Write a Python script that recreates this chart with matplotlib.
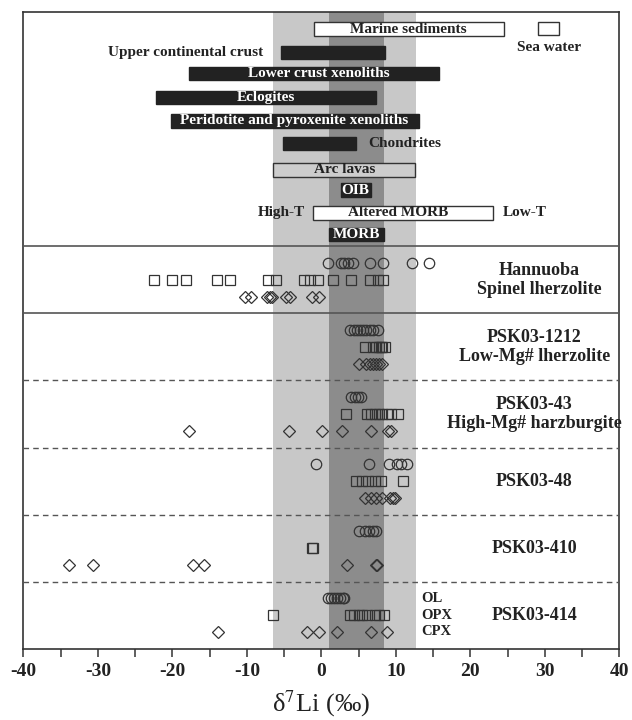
import matplotlib
matplotlib.use('Agg')
import matplotlib.pyplot as plt

plt.rcParams['font.family'] = 'Liberation Serif'
plt.rcParams['mathtext.fontset'] = 'stix'
plt.rcParams['axes.unicode_minus'] = False

# #### Reference reservoirs: delta7Li ranges (permil)
ref_names = ['Marine sediments', 'Sea water', 'Upper continental crust', 'Lower crust xenoliths',
             'Eclogites', 'Peridotite and pyroxenite xenoliths', 'Chondrites', 'Arc lavas',
             'OIB', 'Altered MORB', 'MORB']
ref_low = [-1.0, 29.1, -5.4, -17.8, -22.2, -20.2, -5.2, -6.5, 2.6, -1.1, 1.05]
ref_high = [24.5, 31.9, 8.6, 15.8, 7.4, 13.1, 4.7, 12.6, 6.6, 23.0, 8.4]

# mantle ranges shown as vertical bands
band_wide = [-6.5, 12.75]
band_narrow = [1.05, 8.4]

# #### Mineral data per sample (OL = olivine, OPX, CPX)
han_ol = [0.9, 2.6, 3.1, 3.6, 4.3, 6.5, 8.3, 12.2, 14.4]
han_opx = [-22.5, -20.1, -18.2, -14.0, -12.3, -7.1, -6.1, -2.3, -1.5, -0.4, 1.5, 4.0, 6.5, 7.65, 8.3]
han_cpx = [-10.3, -9.5, -7.3, -6.9, -6.6, -4.7, -4.2, -1.2, -0.3]

p1212_ol = [3.9, 4.4, 4.8, 5.2, 5.6, 6.0, 6.5, 7.0, 7.6]
p1212_opx = [5.8, 6.9, 7.4, 7.7, 8.0, 8.2, 8.5]
p1212_cpx = [5.0, 6.0, 6.5, 6.9, 7.3, 7.7, 8.2]

p43_ol = [4.0, 4.5, 4.9, 5.3]
p43_opx = [3.3, 6.1, 6.6, 7.2, 7.7, 8.2, 8.8, 9.4, 10.3]
p43_cpx = [-17.7, -4.3, 0.1, 2.8, 6.7, 9.0, 9.3]

p48_ol = [-0.7, 6.4, 9.1, 10.1, 10.7, 11.5]
p48_opx = [4.7, 5.5, 6.3, 7.2, 8.0, 11.0]
p48_cpx = [5.8, 6.6, 7.4, 8.2, 9.2, 9.6, 9.9]

p410_ol = [5.0, 5.8, 6.4, 6.9, 7.4]
p410_opx = [-1.2, -1.1]
p410_cpx = [-33.9, -30.7, -17.2, -15.8, 3.4, 7.4, 7.5]

p414_ol = [0.9, 1.3, 1.7, 2.1, 2.5, 2.9, 3.1]
p414_opx = [-6.5, 3.8, 4.4, 5.1, 5.5, 6.1, 7.2, 7.8, 8.4]
p414_cpx = [-13.9, -1.9, -0.3, 2.1, 6.7, 8.8]

sample_labels = ['PSK03-414', 'PSK03-410', 'PSK03-48', 'PSK03-43\nHigh-Mg# harzburgite',
                 'PSK03-1212\nLow-Mg# lherzolite', 'Hannuoba\nSpinel lherzolite']
samples = [(p414_ol, p414_opx, p414_cpx), (p410_ol, p410_opx, p410_cpx),
           (p48_ol, p48_opx, p48_cpx), (p43_ol, p43_opx, p43_cpx),
           (p1212_ol, p1212_opx, p1212_cpx), (han_ol, han_opx, han_cpx)]


fig = plt.figure(figsize=(6.32, 7.2), dpi=100)
ax = fig.add_axes([0.0369, 0.099, 0.9431, 0.8848])
ax.set_xlim(-40, 40)
ax.set_ylim(0, 9.5)

# grey bands
ax.axvspan(band_wide[0], band_wide[1], color='#c8c8c8', lw=0, zorder=0)
ax.axvspan(band_narrow[0], band_narrow[1], color='#8c8c8c', lw=0, zorder=0.5)

# row position and style of each reservoir bar
ref_rows = [9.24, 9.25, 8.89, 8.58, 8.22, 7.87, 7.53, 7.14, 6.84, 6.50, 6.18]
ref_style = ['open', 'open', 'black', 'black', 'black', 'black', 'black', 'grey', 'black', 'open', 'black']
fills = {'open': 'white', 'black': '#222222', 'grey': '#cdcdcd'}
for name, lo, hi, yr, st in zip(ref_names, ref_low, ref_high, ref_rows, ref_style):
    ax.barh(yr, hi - lo, left=lo, height=0.2, color=fills[st],
            edgecolor='#333333' if st != 'black' else fills[st], lw=1, zorder=2)

# labels inside / beside the bars
inside = {'Marine sediments': 11.7, 'Lower crust xenoliths': -0.3, 'Eclogites': -7.4,
          'Peridotite and pyroxenite xenoliths': -3.6, 'Arc lavas': 3.1, 'OIB': 4.6,
          'Altered MORB': 10.3, 'MORB': 4.7}
for name, yr, st in zip(ref_names, ref_rows, ref_style):
    if name in inside:
        ax.text(inside[name], yr, name, ha='center', va='center', fontsize=11, fontweight='bold',
                color='white' if st == 'black' else '#222222', zorder=3)
ax.text(-7.8, 8.89, 'Upper continental crust', ha='right', va='center', fontsize=11,
        fontweight='bold', color='#222222')
ax.text(30.5, 8.96, 'Sea water', ha='center', va='center', fontsize=11, fontweight='bold', color='#222222')
ax.text(6.3, 7.53, 'Chondrites', ha='left', va='center', fontsize=11, fontweight='bold', color='#222222')
ax.text(-2.2, 6.50, 'High-T', ha='right', va='center', fontsize=11, fontweight='bold', color='#222222')
ax.text(24.4, 6.50, 'Low-T', ha='left', va='center', fontsize=11, fontweight='bold', color='#222222')

# section separators
ax.axhline(6, color='#555555', lw=1.2, zorder=4)
ax.axhline(5, color='#555555', lw=1.2, zorder=4)
for yl in [1, 2, 3, 4]:
    ax.axhline(yl, color='#555555', lw=1, ls=(0, (4, 3)), zorder=4)

# mineral points, one section per sample
mk = dict(mfc='none', mec='#333333', mew=0.9, ls='none', zorder=5)
for i, (ol, opx, cpx) in enumerate(samples):
    ax.plot(ol, [i + 0.75] * len(ol), 'o', ms=7.5, **mk)
    ax.plot(opx, [i + 0.5] * len(opx), 's', ms=7.3, **mk)
    ax.plot(cpx, [i + 0.25] * len(cpx), 'D', ms=6.6, **mk)
    xs = 29.2 if i == 5 else 28.6
    ax.text(xs, i + 0.5, sample_labels[i], ha='center', va='center', fontsize=13,
            fontweight='bold', color='#222222', linespacing=1.15)

for lab, yl in zip(['OL', 'OPX', 'CPX'], [0.75, 0.5, 0.25]):
    ax.text(13.4, yl, lab, ha='left', va='center', fontsize=10.5, fontweight='bold', color='#222222')

# axes styling
for sp in ax.spines.values():
    sp.set_color('#333333')
    sp.set_linewidth(1.2)
ax.set_yticks([])
ax.set_xticks(range(-40, 41, 10))
ax.set_xticks(range(-35, 40, 10), minor=True)
ax.tick_params(axis='x', which='both', direction='out', length=5.5, width=1.1, color='#333333')
ax.tick_params(axis='x', labelsize=14, pad=5, labelcolor='#222222')
for lab in ax.get_xticklabels():
    lab.set_fontweight('bold')
ax.set_xlabel('δ$^{7}$Li (‰)', fontsize=19, color='#222222', labelpad=6)

fig.savefig('out.png', dpi=100)
